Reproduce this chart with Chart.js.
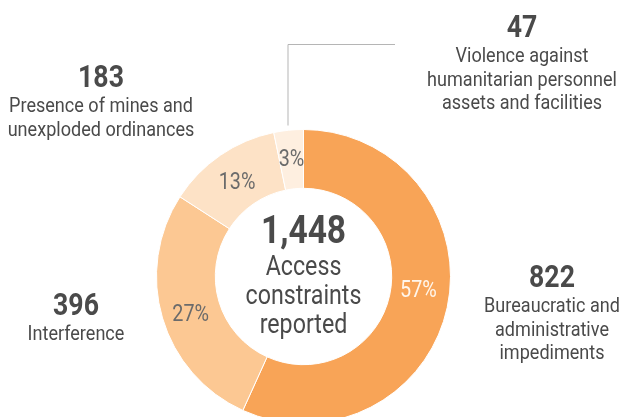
<!DOCTYPE html>
<html>
<head>
<meta charset="utf-8">
<script src="https://cdn.jsdelivr.net/npm/chart.js@4"></script>
<style>
  html, body { margin: 0; padding: 0; background: #fff; overflow: hidden; }
  #chart { display: block; }
</style>
</head>
<body>
<canvas id="chart" width="624" height="430"></canvas>
<script>
// Access constraints reported, by category
const categories = [
  "Bureaucratic and administrative impediments",
  "Interference",
  "Presence of mines and unexploded ordinances",
  "Violence against humanitarian personnel assets and facilities",
];
const counts = [822, 396, 183, 47];
// how each category's caption is wrapped
const captionLines = [
  ["Bureaucratic and", "administrative", "impediments"],
  ["Interference"],
  ["Presence of mines and", "unexploded ordinances"],
  ["Violence against", "humanitarian personnel", "assets and facilities"],
];
const centerLines = ["Access", "constraints", "reported"];

// styles
const sliceColors = ["#F8A457", "#FCC893", "#FDE2C6", "#FEEFE0"];
const pctColors = ["#FFF6EC", "#6B6B6B", "#6B6B6B", "#6B6B6B"];
const pctNudgeY = [-12, 3, 1, -2];
const captionPos = [
  { x: 552, y: 287 },
  { x: 76, y: 315 },
  { x: 101, y: 87 },
  { x: 522, y: 37 },
];
const textColor = "#4A4A4A";
const condense = 0.86;
const FONT = "Roboto, 'Noto Sans', sans-serif";

function drawText(ctx, text, x, y, size, weight, color) {
  ctx.save();
  ctx.translate(x, y);
  ctx.scale(condense, 1);
  ctx.font = weight + " " + size + "px " + FONT;
  ctx.fillStyle = color;
  ctx.textAlign = "center";
  ctx.textBaseline = "alphabetic";
  ctx.fillText(text, 0, 0);
  ctx.restore();
}

const labelsPlugin = {
  id: "labels",
  afterDraw: function (chart) {
    const ctx = chart.ctx;
    const meta = chart.getDatasetMeta(0);
    const total = counts.reduce(function (a, b) { return a + b; }, 0);

    // percent labels inside the ring
    meta.data.forEach(function (arc, i) {
      const p = arc.tooltipPosition();
      const pct = Math.round((counts[i] / total) * 100) + "%";
      drawText(ctx, pct, p.x, p.y + 8 + pctNudgeY[i], 23, "400", pctColors[i]);
    });

    // total in the middle
    const c = meta.data[0];
    drawText(ctx, total.toLocaleString("en-US"), c.x, c.y - 34, 39, "700", textColor);
    centerLines.forEach(function (line, j) {
      drawText(ctx, line, c.x, c.y - 2 + j * 29, 27, "400", textColor);
    });

    // outside captions
    captionPos.forEach(function (pos, i) {
      drawText(ctx, String(counts[i]), pos.x, pos.y, 31, "700", textColor);
      captionLines[i].forEach(function (line, j) {
        drawText(ctx, line, pos.x, pos.y + 25 + j * 23.5, 21, "400", textColor);
      });
    });

    // leader line to the smallest slice
    const small = meta.data[3];
    const lx = small.x - 16;
    ctx.save();
    ctx.strokeStyle = "#B5B5B5";
    ctx.lineWidth = 1;
    ctx.beginPath();
    ctx.moveTo(lx + 0.5, small.y - small.outerRadius - 4);
    ctx.lineTo(lx + 0.5, 44.5);
    ctx.lineTo(395, 44.5);
    ctx.stroke();
    ctx.restore();
  },
};

new Chart(document.getElementById("chart"), {
  type: "doughnut",
  data: {
    labels: categories,
    datasets: [
      {
        data: counts,
        backgroundColor: sliceColors,
        borderColor: "#ffffff",
        borderWidth: 1,
        hoverOffset: 0,
      },
    ],
  },
  options: {
    responsive: false,
    animation: false,
    cutout: "60%",
    layout: {
      padding: { left: 156, right: 173, top: 129, bottom: 6 },
    },
    plugins: {
      legend: { display: false },
      tooltip: { enabled: false },
    },
  },
  plugins: [labelsPlugin],
});
</script>
</body>
</html>
